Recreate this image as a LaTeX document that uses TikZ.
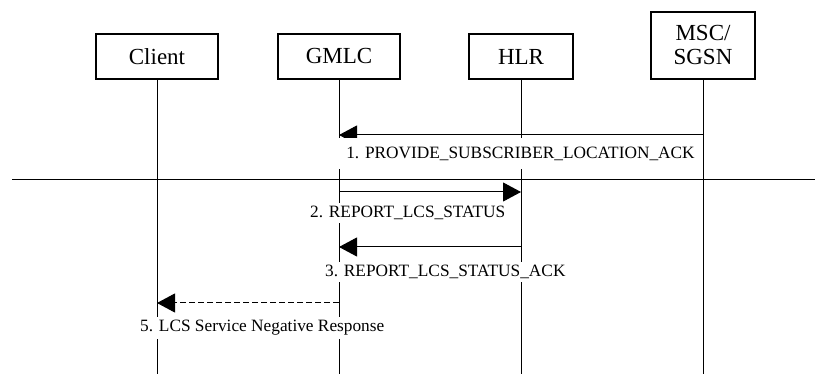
\documentclass[tikz,border=0pt]{standalone}
\usepackage{fontspec}
\setmainfont{Liberation Serif}
\usetikzlibrary{arrows.meta}
\tikzset{
	entity/.style={draw, line width=1.1pt, fill=white, align=center, inner sep=0pt,
		minimum height=45pt, font=\fontsize{23}{24}\selectfont},
	msg/.style={line width=1pt, -{Triangle[length=18pt,width=19pt]}},
	msglabel/.style={fill=white, inner sep=3pt, font=\fontsize{17.3}{19}\selectfont}
}
\begin{document}
\begin{tikzpicture}[x=1pt,y=-1pt]
	\useasboundingbox (0,0) rectangle (815,374);
	\def\bot{374};
	% entities
	\node[entity, minimum width=122pt] (client) at (157,56.5) {Client};
	\node[entity, minimum width=122pt] (gmlc) at (339,56.5) {GMLC};
	\node[entity, minimum width=104pt] (hlr) at (521,56.5) {HLR};
	\node[entity, minimum width=104pt, minimum height=67pt] (msc) at (703,45.5) {MSC/\\SGSN};
	% lifelines
	\coordinate (clientB) at (157,\bot);
	\coordinate (gmlcB) at (339,\bot);
	\coordinate (hlrB) at (521,\bot);
	\coordinate (mscB) at (703,\bot);
	\draw[line width=1pt] (client) -- (clientB);
	\draw[line width=1pt] (gmlc) -- (gmlcB);
	\draw[line width=1pt] (hlr) -- (hlrB);
	\draw[line width=1pt] (msc) -- (mscB);
	% separator
	\coordinate (sepL) at (12,180);
	\coordinate (sepR) at (815,180);
	\draw[line width=1pt] (sepL) -- (sepR);
	% messages
	\coordinate (m1a) at (703,135);
	\coordinate (m1b) at (339,135);
	\draw[msg] (m1a) -- (m1b);
	\node[msglabel, minimum width=364pt, minimum height=31pt] (l1) at (520.5,154) {1. PROVIDE\_SUBSCRIBER\_LOCATION\_ACK};
	\coordinate (m2a) at (339,192);
	\coordinate (m2b) at (521,192);
	\draw[msg] (m2a) -- (m2b);
	\node[msglabel, anchor=west] (l2) at (307,213) {2. REPORT\_LCS\_STATUS};
	\coordinate (m3a) at (521,247);
	\coordinate (m3b) at (339,247);
	\draw[msg] (m3a) -- (m3b);
	\node[msglabel, anchor=west] (l3) at (322,272) {3. REPORT\_LCS\_STATUS\_ACK};
	\coordinate (m5a) at (339,303);
	\coordinate (m5b) at (157,303);
	\draw[msg, dash pattern=on 6pt off 3pt] (m5a) -- (m5b);
	\node[msglabel, anchor=west] (l5) at (137,328) {5. LCS Service Negative Response};
\end{tikzpicture}
\end{document}
